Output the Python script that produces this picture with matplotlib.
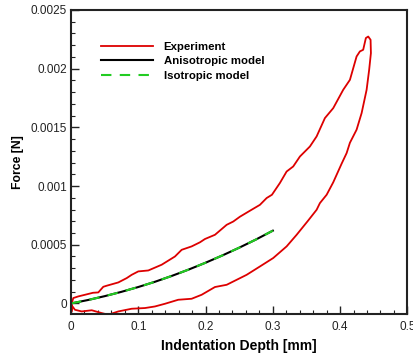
import matplotlib
matplotlib.use("Agg")
import matplotlib.pyplot as plt
from matplotlib.ticker import MultipleLocator, FixedLocator, FixedFormatter

plt.rcParams['font.family'] = ['Liberation Sans', 'DejaVu Sans']

# Experiment loop (loading then unloading), depth [mm], force [N]
exp_depth = [0.001, 0.0034, 0.0108, 0.0208, 0.0327, 0.0406, 0.048, 0.053, 0.0703, 0.0828,
             0.0902, 0.1, 0.1149, 0.1348, 0.1545, 0.1645, 0.1793, 0.1917, 0.1991, 0.214,
             0.2314, 0.2412, 0.2511, 0.266, 0.2808, 0.2908, 0.2987, 0.3105, 0.3205, 0.3303,
             0.3403, 0.3551, 0.3651, 0.3774, 0.3898, 0.4046, 0.4146, 0.4245, 0.4294, 0.4343,
             0.4383, 0.4418, 0.4453, 0.4458, 0.4432, 0.4394, 0.432, 0.4245, 0.4146, 0.4097,
             0.4022, 0.3898, 0.38, 0.37, 0.3651, 0.3522, 0.3354, 0.3205, 0.3006, 0.2808,
             0.2611, 0.2314, 0.214, 0.1942, 0.1793, 0.1594, 0.1397, 0.1248, 0.11, 0.0902,
             0.0703, 0.0554, 0.0456, 0.0308, 0.0159, 0.0059, 0.0015, 0.0007, 0.0007]
exp_force = [0.0, 0.000046, 0.00006, 0.000074, 0.000091, 0.000094, 0.000142, 0.000151, 0.000179, 0.000216,
             0.000244, 0.000273, 0.000281, 0.00033, 0.0004, 0.000457, 0.000486, 0.000521, 0.000549, 0.000585,
             0.00067, 0.000698, 0.000739, 0.00079, 0.00084, 0.000898, 0.000926, 0.001026, 0.001124, 0.001167,
             0.001252, 0.001337, 0.001423, 0.001579, 0.001664, 0.00182, 0.001905, 0.002104, 0.002147, 0.002161,
             0.002261, 0.002274, 0.002246, 0.002133, 0.001991, 0.00182, 0.001622, 0.00148, 0.001369, 0.001281,
             0.00119, 0.001032, 0.000926, 0.000855, 0.000798, 0.000704, 0.000585, 0.000486, 0.000387, 0.000315,
             0.000244, 0.000159, 0.00014, 0.000074, 0.00004, 0.0000315, -0.0000026, -0.0000256, -0.000039, -0.000045,
             -0.000068, -0.000096, -0.000082, -0.000058, -0.000068, -0.000054, -0.00002, -0.00007, 0.00003]

model_depth = [0.0, 0.025, 0.05, 0.075, 0.1, 0.125, 0.15, 0.175, 0.2, 0.225, 0.25, 0.275, 0.3]
aniso_force = [0.0, 0.000029, 0.000062, 0.000099, 0.00014, 0.000185, 0.000235, 0.000289, 0.000347,
               0.000409, 0.000475, 0.000545, 0.00062]
iso_force = [0.0, 0.000029, 0.000062, 0.000099, 0.00014, 0.000185, 0.000235, 0.000289, 0.000347,
             0.000409, 0.000475, 0.000545, 0.00062]

xticks = [0, 0.1, 0.2, 0.3, 0.4, 0.5]
xticklabels = ['0', '0.1', '0.2', '0.3', '0.4', '0.5']
yticks = [0, 0.0005, 0.001, 0.0015, 0.002, 0.0025]
yticklabels = ['0', '0.0005', '0.001', '0.0015', '0.002', '0.0025']

fig = plt.figure(figsize=(4.14, 3.57), dpi=100)
ax = fig.add_axes([0.1715, 0.1204, 0.8125, 0.8516])

ax.plot(exp_depth, exp_force, color='#dd0000', lw=1.3, label='Experiment')
ax.plot(model_depth, aniso_force, color='black', lw=1.5, label='Anisotropic model')
ax.plot(model_depth, iso_force, color='#22cc22', lw=1.5, ls=(0, (5, 4)), label='Isotropic model')

ax.set_xlim(0, 0.5)
ax.set_ylim(-0.00009, 0.0025)
ax.xaxis.set_major_locator(FixedLocator(xticks))
ax.xaxis.set_major_formatter(FixedFormatter(xticklabels))
ax.yaxis.set_major_locator(FixedLocator(yticks))
ax.yaxis.set_major_formatter(FixedFormatter(yticklabels))
ax.xaxis.set_minor_locator(MultipleLocator(0.02))
ax.yaxis.set_minor_locator(MultipleLocator(0.0001))
ax.tick_params(which='both', direction='in', top=False, right=False, labelsize=8.5, colors='#222222')
ax.tick_params(axis='x', which='major', length=6, width=1.0, pad=5)
ax.tick_params(axis='y', which='major', length=6, width=1.0, pad=3)
ax.tick_params(which='minor', length=3, width=0.8)
for s in ax.spines.values():
    s.set_linewidth(1.5)
    s.set_color('#222222')

ax.set_xlabel('Indentation Depth [mm]', fontsize=10, fontweight='bold', labelpad=4)
ax.set_ylabel('Force [N]', fontsize=8.8, fontweight='bold', labelpad=5)

leg = ax.legend(loc='upper left', bbox_to_anchor=(0.089, 0.895), frameon=False,
                prop={'size': 8.2, 'weight': 'bold'}, handlelength=4.6, handletextpad=0.9,
                labelspacing=0.4, borderpad=0, borderaxespad=0)

fig.savefig('out.png', dpi=100)
